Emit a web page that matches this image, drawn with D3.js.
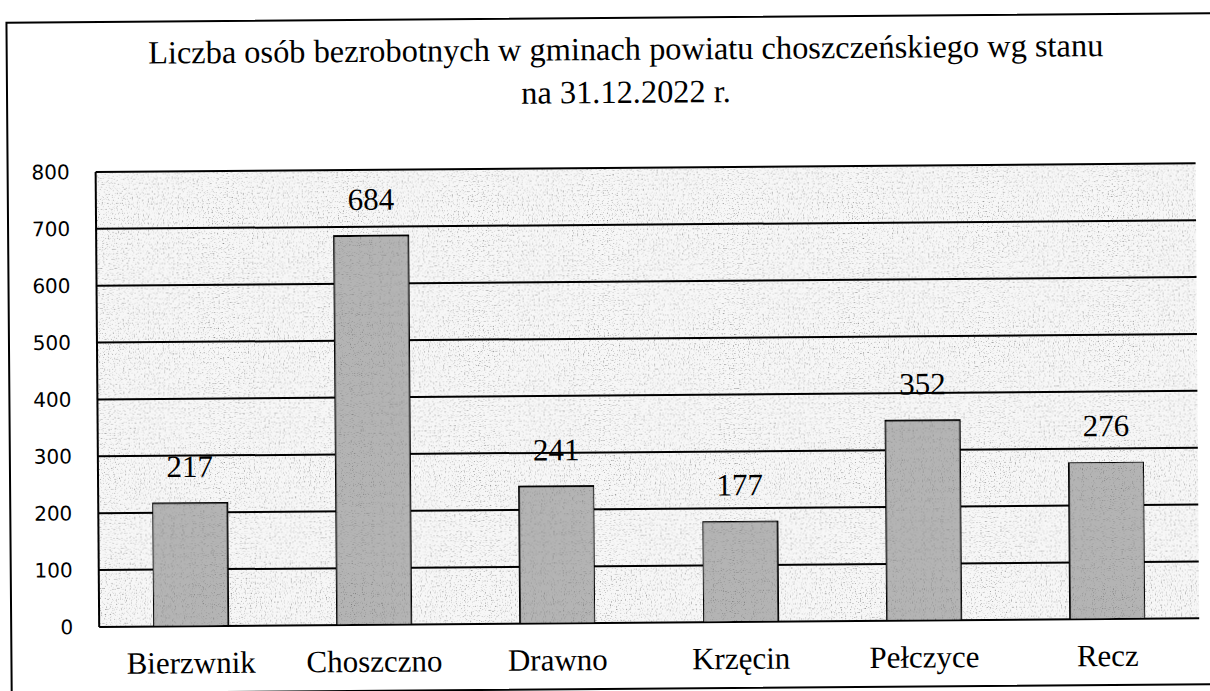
<!DOCTYPE html>
<meta charset="utf-8">
<style>
html, body { margin: 0; background: #fff; overflow: hidden; }
svg { display: block; }
</style>
<svg width="1210" height="691"></svg>
<script src="https://cdn.jsdelivr.net/npm/d3@7"></script>
<script>

// gminy and unemployed counts, 31.12.2022
var gminy = ["Bierzwnik", "Choszczno", "Drawno", "Krzęcin", "Pełczyce", "Recz"];
var bezrobotni = [217, 684, 241, 177, 352, 276];
var yTicks = [0, 100, 200, 300, 400, 500, 600, 700, 800];
var titleLines = [
  "Liczba osób bezrobotnych w gminach powiatu choszczeńskiego wg stanu",
  "na 31.12.2022 r."
];

var serif = "'Liberation Serif', 'DejaVu Serif', serif",
    sans = "'DejaVu Sans', sans-serif";

var svg = d3.select("svg"),
    margin = {top: 168, right: 13, bottom: 68, left: 97},
    width = +svg.attr("width") - margin.left - margin.right,
    height = +svg.attr("height") - margin.top - margin.bottom;

// the scan is tilted a little, so tilt the whole page too
var page = svg.append("g").attr("transform", "rotate(-0.45,605,345)");

// speckle filter to imitate the printed raster
function speckle(id, freq, amount) {
  var f = svg.append("defs").append("filter").attr("id", id)
      .attr("x", 0).attr("y", 0).attr("width", 1).attr("height", 1);
  f.append("feTurbulence").attr("type", "fractalNoise")
      .attr("baseFrequency", freq).attr("numOctaves", 1).attr("seed", 7).attr("result", "n");
  f.append("feColorMatrix").attr("in", "n").attr("type", "matrix")
      .attr("values", "0 0 0 0 0  0 0 0 0 0  0 0 0 0 0  0 0 0 " + (-amount) + " " + (amount * 0.5 - 0.2))
      .attr("result", "dots");
  f.append("feComposite").attr("in", "dots").attr("in2", "SourceGraphic").attr("operator", "in")
      .attr("result", "d2");
  var m = f.append("feMerge");
  m.append("feMergeNode").attr("in", "SourceGraphic");
  m.append("feMergeNode").attr("in", "d2");
}
speckle("grainBg", 0.8, 3);
speckle("grainBar", 0.9, 2.4);

// outer frame of the scanned figure (right side is cut off in the scan)
page.append("path")
    .attr("d", "M1330,18H9V689H1330")
    .attr("fill", "none").attr("stroke", "#000").attr("stroke-width", 2);

page.append("g").selectAll("text")
    .data(titleLines)
  .enter().append("text")
    .attr("x", 628)
    .attr("y", function(d, i) { return 60 + i * 43; })
    .attr("text-anchor", "middle")
    .attr("font-family", serif)
    .attr("font-size", 32.4)
    .attr("fill", "#000")
    .text(function(d) { return d; });

var g = page.append("g").attr("transform", "translate(" + margin.left + "," + margin.top + ")");

var x = d3.scaleBand().domain(gminy).range([0, width]).paddingInner(0.59).paddingOuter(0.295);
var y = d3.scaleLinear().domain([0, 800]).range([height, 0]);

g.append("rect")
    .attr("width", width).attr("height", height)
    .attr("fill", "#f7f7f7")
    .attr("filter", "url(#grainBg)");

g.append("g")
  .selectAll("line")
    .data(yTicks)
  .enter().append("line")
    .attr("x1", 0).attr("x2", width)
    .attr("y1", function(d) { return y(d); })
    .attr("y2", function(d) { return y(d); })
    .attr("stroke", "#000").attr("stroke-width", 2);

g.append("line")
    .attr("x1", 0).attr("x2", 0).attr("y1", 0).attr("y2", height)
    .attr("stroke", "#000").attr("stroke-width", 2);

g.append("g")
    .call(d3.axisLeft(y).tickValues(yTicks).tickSize(0).tickPadding(26))
    .call(function(a) {
      a.select(".domain").remove();
      a.attr("font-family", sans).attr("font-size", 20);
      a.selectAll("text").attr("fill", "#000");
    });

g.append("g")
    .attr("transform", "translate(0," + height + ")")
    .call(d3.axisBottom(x).tickSize(0).tickPadding(25))
    .call(function(a) {
      a.select(".domain").remove();
      a.attr("font-family", serif).attr("font-size", 31);
      a.selectAll("text").attr("fill", "#000");
    });

var data = gminy.map(function(name, i) { return {name: name, value: bezrobotni[i]}; });

g.selectAll(".bar")
    .data(data)
  .enter().append("rect")
    .attr("class", "bar")
    .attr("x", function(d) { return x(d.name); })
    .attr("y", function(d) { return y(d.value); })
    .attr("width", x.bandwidth())
    .attr("height", function(d) { return height - y(d.value); })
    .attr("fill", "#b4b4b4")
    .attr("stroke", "#000").attr("stroke-width", 2)
    .attr("filter", "url(#grainBar)");

g.selectAll(".value")
    .data(data)
  .enter().append("text")
    .attr("class", "value")
    .attr("x", function(d) { return x(d.name) + x.bandwidth() / 2; })
    .attr("y", function(d) { return y(d.value) - 26; })
    .attr("text-anchor", "middle")
    .attr("font-family", serif)
    .attr("font-size", 31)
    .attr("fill", "#000")
    .text(function(d) { return d.value; });

</script>
